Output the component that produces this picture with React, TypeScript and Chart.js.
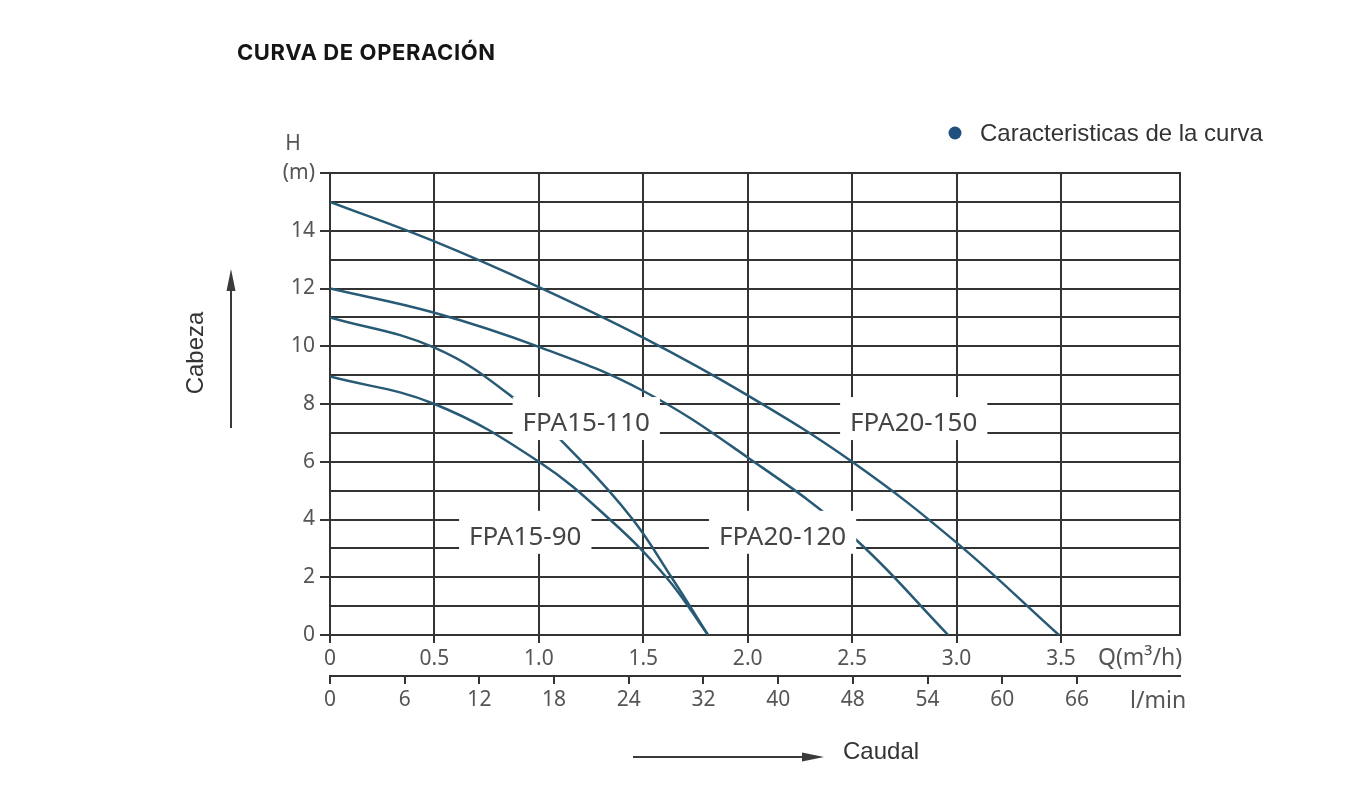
import { useEffect, useRef } from "react";
import { Chart, registerables } from "chart.js";

Chart.register(...registerables);

// Q (m³/h) and H (m)
const FPA20_150_Q = [0, 0.5, 1.0, 1.5, 2.0, 2.5, 3.0, 3.49];
const FPA20_150_H = [15, 13.63, 12.05, 10.3, 8.3, 6.0, 3.2, 0];
const FPA20_120_Q = [0, 0.5, 1.0, 1.5, 2.0, 2.5, 2.96];
const FPA20_120_H = [12, 11.16, 9.98, 8.45, 6.15, 3.42, 0];
const FPA15_110_Q = [0, 0.5, 0.88, 1.2, 1.45, 1.635, 1.81];
const FPA15_110_H = [11, 9.95, 8.2, 6.05, 4.0, 2.0, 0];
const FPA15_90_Q = [0, 0.5, 1.0, 1.34, 1.61, 1.81];
const FPA15_90_H = [8.95, 8.0, 6.0, 4.0, 2.0, 0];

const CURVE_NAMES = ["FPA20-150", "FPA20-120", "FPA15-110", "FPA15-90"];
const LABEL_Q = [2.795, 2.167, 1.227, 0.935];
const LABEL_H = [7.34, 3.4, 7.34, 3.4];

const LPM_TICKS = ["0", "6", "12", "18", "24", "32", "40", "48", "54", "60", "66"];

const GRID = "#333333";
const TICK_TEXT = "#555555";
const CURVE = "#285a75";
const TICK_FONT = { family: "'Noto Sans', 'Open Sans', sans-serif", size: 21 };

const toPoints = (q: number[], h: number[]) => q.map((x, i) => ({ x, y: h[i] }));

const arrow = (ctx: CanvasRenderingContext2D, x1: number, y1: number, x2: number, y2: number) => {
  const ang = Math.atan2(y2 - y1, x2 - x1);
  const len = 22;
  const hw = 4.5;
  ctx.beginPath();
  ctx.moveTo(x1, y1);
  ctx.lineTo(x2 - Math.cos(ang) * len * 0.6, y2 - Math.sin(ang) * len * 0.6);
  ctx.stroke();
  ctx.beginPath();
  ctx.moveTo(x2, y2);
  ctx.lineTo(x2 - Math.cos(ang) * len - Math.sin(ang) * hw, y2 - Math.sin(ang) * len + Math.cos(ang) * hw);
  ctx.lineTo(x2 - Math.cos(ang) * len + Math.sin(ang) * hw, y2 - Math.sin(ang) * len - Math.cos(ang) * hw);
  ctx.closePath();
  ctx.fill();
};

const overlay = {
  id: "overlay",
  beforeDatasetsDraw(chart: any) {
    // right edge of the frame
    const { ctx, chartArea: a } = chart;
    ctx.save();
    ctx.strokeStyle = GRID;
    ctx.lineWidth = 2;
    ctx.beginPath();
    ctx.moveTo(a.right, a.top - 1);
    ctx.lineTo(a.right, a.bottom + 1);
    ctx.stroke();
    ctx.restore();
  },
  afterDatasetsDraw(chart: any) {
    const { ctx, scales } = chart;
    ctx.save();
    ctx.font = "26px 'Noto Sans', sans-serif";
    ctx.textAlign = "center";
    ctx.textBaseline = "middle";
    CURVE_NAMES.forEach((name, i) => {
      const cx = scales.x.getPixelForValue(LABEL_Q[i]);
      const cy = scales.y.getPixelForValue(LABEL_H[i]);
      const w = ctx.measureText(name).width;
      ctx.fillStyle = "#ffffff";
      ctx.fillRect(cx - w / 2 - 10, cy - 26, w + 20, 43);
      ctx.fillStyle = "#454545";
      ctx.fillText(name, cx, cy + 1);
    });
    ctx.restore();
  },
  afterDraw(chart: any) {
    const { ctx, chartArea: a, scales } = chart;
    ctx.save();
    ctx.fillStyle = TICK_TEXT;
    ctx.font = "21px 'Noto Sans', sans-serif";
    ctx.textBaseline = "middle";
    ctx.textAlign = "center";
    ctx.fillText("H", a.left - 37, a.top - 29);
    ctx.textAlign = "left";
    ctx.font = "23px 'Noto Sans', sans-serif";
    ctx.fillText("Q(m³/h)", a.right - 82, scales.x.top + 23);
    ctx.fillText("l/min", a.right - 50, scales.x2.top + 25);

    // legend
    ctx.fillStyle = "#1f5080";
    ctx.beginPath();
    ctx.arc(955, 133, 6.5, 0, Math.PI * 2);
    ctx.fill();
    ctx.fillStyle = "#333333";
    ctx.font = "24px 'Liberation Sans', Arial, sans-serif";
    ctx.fillText("Caracteristicas de la curva", 980, 134);

    // axis captions with arrows
    ctx.strokeStyle = "#3a3a3a";
    ctx.fillStyle = "#3a3a3a";
    ctx.lineWidth = 2;
    arrow(ctx, 633, 757, 824, 757);
    arrow(ctx, 231, 428, 231, 269);
    ctx.fillStyle = "#333333";
    ctx.fillText("Caudal", 843, 752);
    ctx.translate(196, 353);
    ctx.rotate(-Math.PI / 2);
    ctx.textAlign = "center";
    ctx.fillText("Cabeza", 0, 0);
    ctx.restore();
  },
};

export default function App() {
  const canvasRef = useRef<HTMLCanvasElement>(null);

  useEffect(() => {
    if (!canvasRef.current) return;
    const series = [
      toPoints(FPA20_150_Q, FPA20_150_H),
      toPoints(FPA20_120_Q, FPA20_120_H),
      toPoints(FPA15_110_Q, FPA15_110_H),
      toPoints(FPA15_90_Q, FPA15_90_H),
    ];
    const chart = new Chart(canvasRef.current, {
      type: "line",
      data: {
        datasets: series.map((data, i) => ({
          label: CURVE_NAMES[i],
          data,
          borderColor: CURVE,
          borderWidth: 2.5,
          pointRadius: 0,
          fill: false,
          tension: 0.4,
        })),
      },
      options: {
        animation: false,
        responsive: true,
        maintainAspectRatio: false,
        layout: { padding: { top: 173, right: 183, bottom: 66, left: 0 } },
        plugins: { legend: { display: false }, tooltip: { enabled: false } },
        scales: {
          x: {
            type: "linear",
            position: "bottom",
            weight: 0,
            min: 0,
            max: 4.07,
            afterBuildTicks: (s: any) => {
              s.ticks = s.ticks.filter((t: any) => t.value <= 3.5 + 1e-6);
            },
            afterFit: (s: any) => {
              s.height = 41;
            },
            ticks: {
              stepSize: 0.5,
              autoSkip: false,
              maxRotation: 0,
              padding: 3,
              color: TICK_TEXT,
              font: TICK_FONT,
              callback: (v: any) => (Number(v) === 0 ? "0" : Number(v).toFixed(1)),
            },
            grid: { color: GRID, lineWidth: 2, tickLength: 8 },
            border: { color: GRID, width: 2 },
          },
          x2: {
            type: "linear",
            axis: "x",
            position: "bottom",
            weight: 1,
            min: 0,
            max: 11.38,
            afterBuildTicks: (s: any) => {
              s.ticks = s.ticks.filter((t: any) => t.value < LPM_TICKS.length);
            },
            afterFit: (s: any) => {
              s.height = 50;
            },
            ticks: {
              stepSize: 1,
              autoSkip: false,
              maxRotation: 0,
              padding: 3,
              color: TICK_TEXT,
              font: TICK_FONT,
              callback: (v: any) => LPM_TICKS[Number(v)] ?? "",
            },
            grid: { drawOnChartArea: false, color: GRID, lineWidth: 2, tickLength: 8 },
            border: { color: GRID, width: 2 },
          },
          y: {
            type: "linear",
            min: 0,
            max: 16,
            afterFit: (s: any) => {
              s.width = 330;
            },
            ticks: {
              stepSize: 1,
              autoSkip: false,
              padding: 5,
              color: TICK_TEXT,
              font: TICK_FONT,
              callback: (v: any) => {
                const n = Number(v);
                if (n === 16) return "(m)";
                return n % 2 === 0 ? String(n) : "";
              },
            },
            grid: {
              color: GRID,
              lineWidth: 2,
              tickLength: 10,
              tickColor: (c: any) => (c.tick && c.tick.value % 2 === 0 ? GRID : "rgba(0,0,0,0)"),
            },
            border: { color: GRID, width: 2 },
          },
        },
      },
      plugins: [overlay],
    });
    return () => chart.destroy();
  }, []);

  return (
    <div style={{ position: "absolute", left: 0, top: 0, width: 1363, height: 792, background: "#fff" }}>
      <div
        style={{
          position: "absolute",
          left: 237,
          top: 41,
          font: "700 22px Inter, 'Liberation Sans', Arial, sans-serif",
          lineHeight: "22px",
          letterSpacing: "0.6px",
          color: "#151515",
        }}
      >
        CURVA DE OPERACIÓN
      </div>
      <canvas ref={canvasRef} />
    </div>
  );
}
